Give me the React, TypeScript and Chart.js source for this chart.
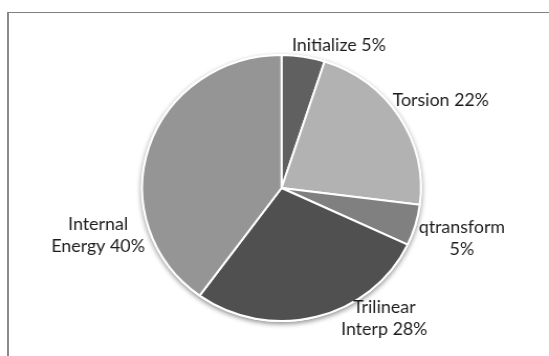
import { useEffect, useRef } from 'react';
import { Chart, registerables } from 'chart.js';

Chart.register(...registerables);

const categories = ['Initialize', 'Torsion', 'qtransform', 'Trilinear Interp', 'Internal Energy'];
const shares = [5, 22, 5, 28, 40];
const sliceColors = ['#606060', '#b2b2b2', '#808080', '#505050', '#959595'];

// Label anchors: angle clockwise from 12 o'clock (degrees), distance in pie radii
const labelAnchors = [
  { angle: 21, dist: 1.15 },
  { angle: 60, dist: 1.32 },
  { angle: 106.5, dist: 1.35 },
  { angle: 143, dist: 1.225 },
  { angle: 254.7, dist: 1.365 },
];

const LABEL_FONT = '17px Lato';
const LABEL_WRAP = 100;
const LINE_HEIGHT = 22;

// Soft drop shadow behind the whole pie
const pieShadow = {
  id: 'pieShadow',
  beforeDatasetsDraw(chart: any) {
    const arc = chart.getDatasetMeta(0).data[0];
    if (!arc) return;
    const { x, y, outerRadius } = arc.getProps(['x', 'y', 'outerRadius'], true);
    const ctx = chart.ctx;
    ctx.save();
    ctx.shadowColor = 'rgba(0,0,0,0.45)';
    ctx.shadowBlur = 5;
    ctx.shadowOffsetY = 2;
    ctx.beginPath();
    ctx.arc(x, y, outerRadius + 1, 0, Math.PI * 2);
    ctx.fillStyle = '#ffffff';
    ctx.fill();
    ctx.restore();
  },
};

function wrapText(ctx: CanvasRenderingContext2D, text: string, maxWidth: number): string[] {
  const words = text.split(' ');
  const lines: string[] = [];
  let current = '';
  for (const w of words) {
    const trial = current ? current + ' ' + w : w;
    if (current && ctx.measureText(trial).width > maxWidth) {
      lines.push(current);
      current = w;
    } else {
      current = trial;
    }
  }
  if (current) lines.push(current);
  return lines;
}

// Category + percentage labels outside the slices
const sliceLabels = {
  id: 'sliceLabels',
  afterDatasetsDraw(chart: any) {
    const meta = chart.getDatasetMeta(0);
    const first = meta.data[0];
    if (!first) return;
    const { x, y, outerRadius } = first.getProps(['x', 'y', 'outerRadius'], true);
    const ctx = chart.ctx;
    ctx.save();
    ctx.font = LABEL_FONT;
    ctx.fillStyle = '#1c1c1c';
    ctx.textAlign = 'center';
    ctx.textBaseline = 'middle';
    categories.forEach((cat, i) => {
      const anchor = labelAnchors[i];
      const a = (anchor.angle * Math.PI) / 180;
      const lx = x + Math.sin(a) * outerRadius * anchor.dist;
      const ly = y - Math.cos(a) * outerRadius * anchor.dist;
      const lines = wrapText(ctx, `${cat} ${shares[i]}%`, LABEL_WRAP);
      const top = ly - ((lines.length - 1) * LINE_HEIGHT) / 2;
      lines.forEach((line, j) => ctx.fillText(line, lx, top + j * LINE_HEIGHT));
    });
    ctx.restore();
  },
};

export default function App() {
  const canvasRef = useRef<HTMLCanvasElement | null>(null);

  useEffect(() => {
    if (!canvasRef.current) return;
    const chart = new Chart(canvasRef.current, {
      type: 'pie',
      data: {
        labels: categories,
        datasets: [
          {
            data: shares,
            backgroundColor: sliceColors,
            borderColor: '#ffffff',
            borderWidth: 2,
          },
        ],
      },
      options: {
        responsive: false,
        animation: false,
        layout: { padding: { left: 134.7, right: 121.3, top: 54, bottom: 34 } },
        plugins: {
          legend: { display: false },
          tooltip: { enabled: false },
        },
      },
      plugins: [pieShadow, sliceLabels],
    });
    if ((document as any).fonts?.load) {
      (document as any).fonts.load(LABEL_FONT).then(() => chart.draw()).catch(() => {});
    }
    return () => chart.destroy();
  }, []);

  return (
    <div style={{ position: 'fixed', left: 0, top: 0, width: 549, height: 356, background: '#ffffff', overflow: 'hidden' }}>
      <div
        style={{
          position: 'absolute',
          left: 0,
          top: 0,
          width: 524,
          height: 356,
          transform: `scaleX(${549 / 524})`,
          transformOrigin: 'left top',
        }}
      >
        <canvas ref={canvasRef} width={524} height={356} style={{ display: 'block' }} />
      </div>
      <div
        style={{
          position: 'absolute',
          left: 7,
          top: 12,
          width: 542,
          height: 344,
          boxSizing: 'border-box',
          borderTop: '1px solid #808080',
          borderLeft: '2px solid #8a8a8a',
          pointerEvents: 'none',
        }}
      />
    </div>
  );
}
